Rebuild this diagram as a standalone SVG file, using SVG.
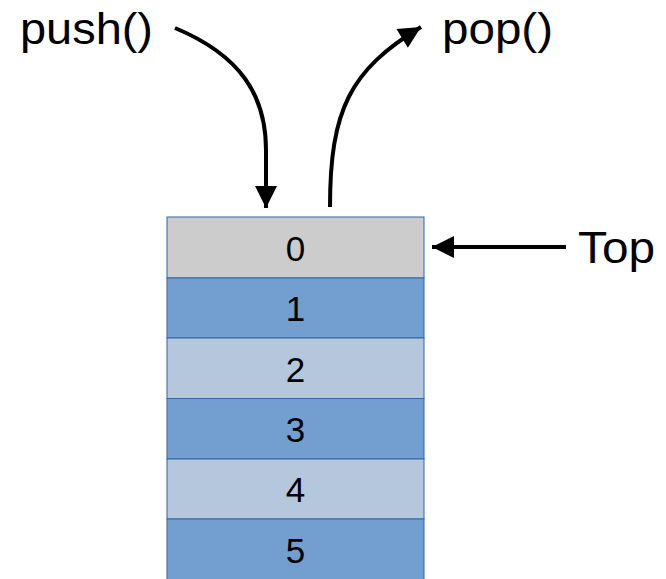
<svg xmlns="http://www.w3.org/2000/svg" width="666" height="579" viewBox="0 0 666 579">
<style>
.cell{stroke:#3465a4;stroke-width:1}
.num{font-family:"Liberation Sans",Arial,sans-serif;font-size:35px;text-anchor:middle;fill:#000}
.lbl{font-family:"Liberation Sans",Arial,sans-serif;font-size:45px;fill:#000}
.con{fill:none;stroke:#000;stroke-width:4}
</style>
<defs>
<marker id="ah" viewBox="0 0 10 10" refX="10" refY="5" markerWidth="7" markerHeight="5.5" orient="auto" markerUnits="strokeWidth">
<path d="M0,0 L10,5 L0,10 z" fill="#000"/>
</marker>
</defs>
<rect width="666" height="579" fill="#fff"/>
<g id="cell0"><rect class="cell" x="167" y="217" width="257" height="61" fill="#cccccc"/><text class="num" x="295.5" y="261">0</text></g>
<g id="cell1"><rect class="cell" x="167" y="278" width="257" height="60" fill="#729fcf"/><text class="num" x="295.5" y="321">1</text></g>
<g id="cell2"><rect class="cell" x="167" y="338" width="257" height="60.5" fill="#b4c7dc"/><text class="num" x="295.5" y="382">2</text></g>
<g id="cell3"><rect class="cell" x="167" y="398.5" width="257" height="60.5" fill="#729fcf"/><text class="num" x="295.5" y="442">3</text></g>
<g id="cell4"><rect class="cell" x="167" y="459" width="257" height="60" fill="#b4c7dc"/><text class="num" x="295.5" y="502">4</text></g>
<g id="cell5"><rect class="cell" x="167" y="519" width="257" height="62" fill="#729fcf"/><text class="num" x="295.5" y="563">5</text></g>
<g id="labels">
<text class="lbl" x="20" y="44" textLength="133" lengthAdjust="spacingAndGlyphs">push()</text>
<text class="lbl" x="442" y="44" textLength="111" lengthAdjust="spacingAndGlyphs">pop()</text>
<text class="lbl" x="578" y="263" textLength="77" lengthAdjust="spacingAndGlyphs">Top</text>
</g>
<g id="connectors">
<path class="con" d="M175,28 C240,55 266,95 266,150 L266,208" marker-end="url(#ah)"/>
<path class="con" d="M330,207 C330,110 350,70 421,27" marker-end="url(#ah)"/>
<path class="con" d="M566,247 L432,247" marker-end="url(#ah)"/>
</g>
</svg>
